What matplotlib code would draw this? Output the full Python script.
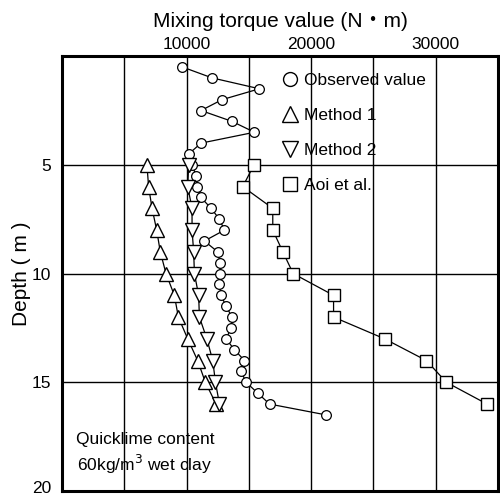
import matplotlib
matplotlib.use("Agg")
import matplotlib.pyplot as plt
import matplotlib.transforms as mtransforms
from matplotlib.lines import Line2D

plt.rcParams['font.family'] = ['Liberation Sans', 'Noto Sans CJK JP', 'DejaVu Sans']

# Observed mixing torque (N*m) vs depth (m)
obs_depth = [0.5, 1.0, 1.5, 2.0, 2.5, 3.0, 3.5, 4.0, 4.5, 5.0, 5.5, 6.0, 6.5, 7.0,
             7.5, 8.0, 8.5, 9.0, 9.5, 10.0, 10.5, 11.0, 11.5, 12.0, 12.5, 13.0,
             13.5, 14.0, 14.5, 15.0, 15.5, 16.0, 16.5]
obs_torque = [9670, 12050, 15850, 12850, 11160, 13650, 15450, 11160, 10170, 10450,
              10760, 10850, 11160, 11970, 12640, 13040, 11430, 12500, 12690, 12690,
              12640, 12770, 13170, 13650, 13580, 13170, 13840, 14650, 14380, 14780,
              15720, 16660, 21210]

calc_depth = [5, 6, 7, 8, 9, 10, 11, 12, 13, 14, 15, 16]
method1 = [6820, 6950, 7230, 7600, 7890, 8350, 9020, 9340, 10090, 10890, 11510, 12370]
method2 = [10170, 10090, 10440, 10440, 10570, 10630, 10970, 11030, 11630, 12100, 12320, 12640]
aoi = [15410, 14510, 16920, 16920, 17730, 18560, 21800, 21800, 25900, 29250, 30860, 34120]

x_grid = [0, 5000, 10000, 15000, 20000, 25000, 30000, 35000]
x_labels = ['', '', '10000', '', '20000', '', '30000', '']
y_ticks = [5, 10, 15, 20]

fig = plt.figure(figsize=(5.0, 4.97), dpi=100)
ax = fig.add_axes([0.124, 0.012, 0.872, 0.875])

lw = 0.9
ax.plot(obs_torque, obs_depth, color='black', lw=lw, marker='o', ms=7,
        mfc='white', mec='black', mew=0.9, zorder=3)
ax.plot(method1, calc_depth, color='black', lw=lw, marker='^', ms=9.5,
        mfc='white', mec='black', mew=1.0, zorder=4)
ax.plot(method2, calc_depth, color='black', lw=lw, marker='v', ms=9.5,
        mfc='white', mec='black', mew=1.0, zorder=4)
ax.plot(aoi, calc_depth, color='black', lw=lw, marker='s', ms=9,
        mfc='white', mec='black', mew=1.0, zorder=4)

ax.set_xlim(0, 35000)
ax.set_ylim(20, 0)
ax.xaxis.tick_top()
ax.xaxis.set_label_position('top')
ax.set_xticks(x_grid)
ax.set_xticklabels(x_labels)
ax.set_yticks(y_ticks)
ax.set_yticklabels([str(v) for v in y_ticks])
ax.tick_params(axis='both', length=0, labelsize=12.5)
ax.tick_params(axis='x', pad=3)
ax.tick_params(axis='y', pad=8)
# the bottom label sits a little higher so it stays inside the picture
lift = mtransforms.ScaledTranslation(0, 0.04, fig.dpi_scale_trans)
last = ax.get_yticklabels()[-1]
last.set_transform(last.get_transform() + lift)
ax.grid(True, color='black', lw=1.0)
ax.set_axisbelow(True)
for sp in ax.spines.values():
    sp.set_linewidth(2.2)

ax.set_xlabel('Mixing torque value (N・m)', fontsize=15, labelpad=7)
ax.set_ylabel('Depth ( m )', fontsize=15, labelpad=0)

handles = [
    Line2D([], [], ls='none', marker='o', ms=10, mfc='white', mec='black', mew=1.0),
    Line2D([], [], ls='none', marker='^', ms=11, mfc='white', mec='black', mew=1.0),
    Line2D([], [], ls='none', marker='v', ms=11, mfc='white', mec='black', mew=1.0),
    Line2D([], [], ls='none', marker='s', ms=10, mfc='white', mec='black', mew=1.0),
]
ax.legend(handles, ['Observed value', 'Method 1', 'Method 2', 'Aoi et al.'],
          loc='upper left', bbox_to_anchor=(0.48, 0.99), frameon=False,
          fontsize=12.5, handlelength=0.8, handletextpad=0.4,
          labelspacing=1.15, borderpad=0.2)

ax.text(0.19, 0.085, 'Quicklime content\n60kg/m$^3$ wet clay', transform=ax.transAxes,
        ha='center', va='center', fontsize=12.5, linespacing=1.3)

fig.savefig('out.png', dpi=100)
